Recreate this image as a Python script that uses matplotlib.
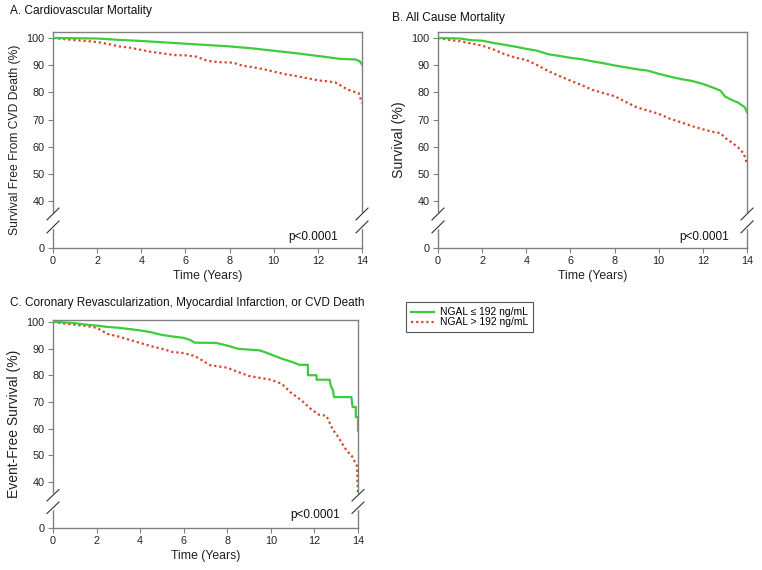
import numpy as np
import matplotlib
matplotlib.use("Agg")
import matplotlib.pyplot as plt
from matplotlib.lines import Line2D

plt.rcParams['font.family'] = ['Liberation Sans', 'DejaVu Sans']

# ---------------- data ----------------
A_low_t = [0, 1, 2, 3, 4, 5, 6, 7, 8, 9, 10, 11, 12, 13, 13.7, 13.9, 14]
A_low_s = [100, 99.9, 99.8, 99.3, 98.9, 98.4, 97.9, 97.4, 96.9, 96.2, 95.3, 94.4, 93.4, 92.3, 92.1, 91.4, 90.2]
A_high_t = [0, 0.5, 1, 1.5, 2, 2.5, 3, 3.5, 4, 4.5, 5, 5.5, 6, 6.5, 7, 7.5, 8, 8.2, 8.6, 9, 9.5, 10,
            10.5, 11, 11.5, 12, 12.5, 12.8, 13, 13.3, 13.6, 13.85, 14]
A_high_s = [100, 99.6, 99.2, 98.9, 98.5, 97.8, 96.9, 96.4, 95.6, 94.8, 94.3, 93.7, 93.6, 93.1, 91.6, 91.1,
            91.0, 90.8, 89.8, 89.3, 88.6, 87.6, 86.7, 86.0, 85.2, 84.4, 84.0, 83.6, 82.7, 81.2, 80.3, 79.7, 76.0]

B_low_t = [0, 0.5, 1, 1.5, 2, 2.5, 3, 3.5, 4, 4.5, 5, 5.5, 6, 6.5, 7, 7.5, 8, 8.5, 9, 9.5, 10, 10.5,
           11, 11.5, 12, 12.5, 12.8, 13, 13.3, 13.6, 13.9, 14]
B_low_s = [100, 99.9, 99.8, 99.2, 99.0, 98.2, 97.5, 96.8, 96.0, 95.3, 94.0, 93.4, 92.7, 92.2, 91.4, 90.7,
           89.9, 89.2, 88.5, 88.0, 86.8, 85.8, 84.9, 84.2, 83.1, 81.6, 80.6, 78.5, 77.2, 76.2, 74.5, 72.7]
B_high_t = [0, 0.5, 1, 1.5, 2, 2.5, 3, 3.5, 4, 4.5, 5, 5.5, 6, 6.5, 7, 7.5, 8, 8.5, 9, 9.5, 10, 10.5,
            11, 11.5, 12, 12.5, 12.8, 13, 13.3, 13.6, 13.85, 14]
B_high_s = [100, 99.3, 98.8, 98.0, 97.2, 95.8, 94.1, 92.8, 91.9, 90.0, 87.8, 86.0, 84.3, 82.7, 80.9, 79.7,
            78.6, 76.5, 74.5, 73.3, 72.1, 70.3, 69.0, 67.6, 66.4, 65.4, 65.0, 63.3, 61.6, 59.7, 57.5, 53.7]

C_low_t = [0, 0.5, 1, 1.5, 2, 2.5, 3, 3.5, 4, 4.5, 5, 5.5, 6, 6.3, 6.5, 7.5, 8, 8.5, 9, 9.5, 10, 10.5,
           11, 11.3, 11.7, 11.7, 12.1, 12.1, 12.7, 12.75, 12.85, 12.9, 13.7, 13.75, 13.9, 13.9, 14, 14]
C_low_s = [100, 99.8, 99.5, 99.0, 98.6, 98.1, 97.8, 97.3, 96.8, 96.1, 95.1, 94.5, 94.0, 93.2, 92.2, 92.1,
           91.1, 89.9, 89.6, 89.3, 87.8, 86.2, 84.9, 83.9, 83.9, 80.0, 80.0, 78.3, 78.3, 76.1, 74.3, 71.8,
           71.8, 68.1, 68.1, 64.3, 64.3, 59.3]
C_high_t = [0, 0.5, 1, 1.5, 2, 2.5, 3, 3.5, 4, 4.5, 5, 5.5, 6, 6.5, 6.8, 7.2, 8, 8.5, 9, 9.5, 10, 10.5,
            10.9, 11.4, 11.8, 12.2, 12.55, 12.85, 13.1, 13.3, 13.5, 13.7, 13.85, 13.95, 14]
C_high_s = [100, 99.4, 98.9, 98.5, 97.8, 95.5, 94.5, 93.3, 92.1, 90.9, 89.9, 88.7, 88.3, 87.2, 85.8, 83.8,
            82.8, 81.2, 79.7, 79.0, 78.3, 76.8, 73.6, 70.6, 67.6, 65.2, 64.8, 59.5, 56.8, 54.0, 51.5, 50.0,
            47.6, 46.0, 35.5]

x_ticks = [0, 2, 4, 6, 8, 10, 12, 14]
y_ticks = [0, 40, 50, 60, 70, 80, 90, 100]
legend_labels = ["NGAL \u2264 192 ng/mL", "NGAL > 192 ng/mL"]
titles = ["A. Cardiovascular Mortality", "B. All Cause Mortality",
          "C. Coronary Revascularization, Myocardial Infarction, or CVD Death"]
ylabels = ["Survival Free From CVD Death (%)", "Survival (%)", "Event-Free Survival (%)"]

GREEN = '#3ccc3c'
RED = '#d9442a'
GRAY = '#808080'

# broken y axis scale
BRK = 35.0
K = 0.351


def fwd(y):
    y = np.asarray(y, dtype=float)
    return np.where(y >= BRK, y, BRK - (BRK - y) * K)


def inv(y):
    y = np.asarray(y, dtype=float)
    return np.where(y >= BRK, y, BRK - (BRK - y) / K)


W, H = 762, 570
fig = plt.figure(figsize=(W / 100, H / 100), dpi=100)


def px_axes(l, r, t, b):
    return fig.add_axes([l / W, (H - b) / H, (r - l) / W, (b - t) / H])


axA = px_axes(53, 362, 32, 248)
axB = px_axes(438, 747, 32, 248)
axC = px_axes(53, 358, 320, 528)

panels = [
    (axA, A_low_t, A_low_s, A_high_t, A_high_s, 102.2, 0.922),
    (axB, B_low_t, B_low_s, B_high_t, B_high_s, 102.2, 0.942),
    (axC, C_low_t, C_low_s, C_high_t, C_high_s, 100.7, 0.941),
]

for ax, lt, ls, ht, hs, ytop, px in panels:
    ax.set_yscale('function', functions=(fwd, inv))
    ax.plot(ht, hs, color=RED, lw=1.6, linestyle=(0, (1, 1.3)), zorder=3)
    ax.plot(lt, ls, color=GREEN, lw=1.6, zorder=4)
    ax.set_xlim(0, 14)
    ax.set_ylim(0, ytop)
    ax.set_xticks(x_ticks)
    ax.set_yticks(y_ticks)
    ax.set_xticklabels([str(v) for v in x_ticks])
    ax.set_yticklabels([str(v) for v in y_ticks])
    ax.tick_params(direction='out', length=3.5, width=0.8, color=GRAY, labelsize=7.8,
                   labelcolor='#222222', pad=2.5)
    for sp in ax.spines.values():
        sp.set_color(GRAY)
        sp.set_linewidth(1.0)
    ax.set_xlabel("Time (Years)", fontsize=8.8, labelpad=3, color='#222222')
    ax.text(px, 0.05 if ax is not axC else 0.0625, "p<0.0001", transform=ax.transAxes,
            ha='right', va='center', fontsize=8.5, color='#111111')
    # break marks
    bw = 6.0 / (ax.get_position().width * W)
    for xs in (0.0, 1.0):
        ax.plot([xs, xs], [0.098, 0.157], transform=ax.transAxes, color='white', lw=2.5,
                clip_on=False, zorder=6)
        ax.plot([xs - bw, xs + bw], [0.13, 0.185], transform=ax.transAxes, color='#333333', lw=0.8,
                clip_on=False, zorder=7)
        ax.plot([xs - bw, xs + bw], [0.07, 0.125], transform=ax.transAxes, color='#333333', lw=0.8,
                clip_on=False, zorder=7)

axA.set_ylabel(ylabels[0], fontsize=8.7, labelpad=4, color='#222222')
axB.set_ylabel(ylabels[1], fontsize=10.2, labelpad=4, color='#222222')
axC.set_ylabel(ylabels[2], fontsize=10.0, labelpad=4, color='#222222')

fig.text(10 / W, 1 - 11 / H, titles[0], ha='left', va='center', fontsize=8.6, color='#111111')
fig.text(392 / W, 1 - 18 / H, titles[1], ha='left', va='center', fontsize=8.6, color='#111111')
fig.text(10 / W, 1 - 303 / H, titles[2], ha='left', va='center', fontsize=8.5, color='#111111')

handles = [Line2D([], [], color=GREEN, lw=1.6),
           Line2D([], [], color=RED, lw=1.6, linestyle=(0, (1, 1.3)))]
leg = fig.legend(handles, legend_labels, loc='upper left', bbox_to_anchor=(405.7 / W, 1 - 302 / H),
                 borderaxespad=0, fontsize=7.4, frameon=True, fancybox=False, edgecolor='#555555',
                 framealpha=1, handlelength=2.3, handletextpad=0.5, borderpad=0.5, labelspacing=0.0)
leg.get_frame().set_linewidth(0.8)

fig.savefig("out.png", dpi=100)
